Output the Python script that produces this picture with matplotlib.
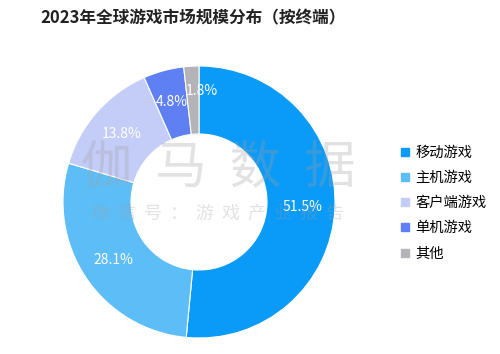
import matplotlib
matplotlib.use("Agg")
import matplotlib.pyplot as plt
from matplotlib.lines import Line2D

plt.rcParams['font.family'] = ['Noto Sans CJK SC', 'DejaVu Sans']

categories = ["移动游戏", "主机游戏", "客户端游戏", "单机游戏", "其他"]
values = [51.5, 28.1, 13.8, 4.8, 1.8]
colors = ["#0a9af7", "#5dbdf6", "#c4cdf8", "#5f80f2", "#b3b3b8"]
title = "2023年全球游戏市场规模分布（按终端）"

fig = plt.figure(figsize=(5.0, 3.54), dpi=100)
W, H = 500, 354
cx, cy, R = 199, 202, 136
ax = fig.add_axes([(cx - R) / W, (H - cy - R) / H, 2 * R / W, 2 * R / H])

wedges, texts, autotexts = ax.pie(
    values, colors=colors, startangle=90, counterclock=False,
    autopct=lambda p: f"{p:.1f}%", pctdistance=0.76,
    wedgeprops=dict(width=0.5, edgecolor="white", linewidth=0.8),
    textprops=dict(color="white", fontsize=10))
ax.set_aspect("equal")
ax.set_xlim(-1, 1)
ax.set_ylim(-1, 1)
ax.axis("off")
# nudge the smallest label outward like the reference
x, y = autotexts[-1].get_position()
autotexts[-1].set_position((x + 0.06, y * 1.08))

fig.text(40 / W, 1 - 18 / H, title, fontsize=12, fontweight="bold",
         color="#222222", ha="left", va="center")

# watermark
fig.text(218 / W, 1 - 168 / H, "伽  马  数  据", fontsize=37, color="#a0a0a0",
         alpha=0.3, ha="center", va="center")
fig.text(218 / W, 1 - 214 / H, "微  信  号  ：  游  戏  产  业  报  告", fontsize=13,
         color="#a0a0a0", alpha=0.3, ha="center", va="center")

handles = [Line2D([0], [0], marker="s", linestyle="none", markersize=6,
                  markerfacecolor=c, markeredgecolor=c) for c in colors]
fig.legend(handles, categories, loc="upper left",
           bbox_to_anchor=(399 / W, 1 - 146 / H), frameon=False,
           fontsize=10.3, handlelength=0.8, handletextpad=0.35,
           labelspacing=0.78, borderpad=0, borderaxespad=0)

fig.savefig("out.png", dpi=100)
